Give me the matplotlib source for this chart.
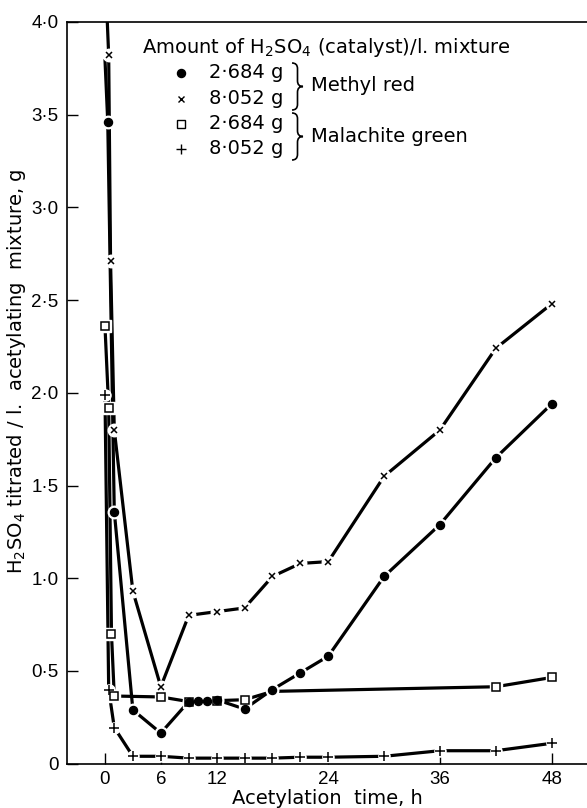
import matplotlib
matplotlib.use("Agg")
import matplotlib.pyplot as plt
from matplotlib.path import Path
from matplotlib.patches import PathPatch

# ---------------- data ----------------
# Methyl red, 2.684 g H2SO4 (filled circles)
t_mr_low = [0, 0.3, 1, 3, 6, 9, 10, 11, 12, 15, 18, 21, 24, 30, 36, 42, 48]
v_mr_low = [3.80, 3.46, 1.36, 0.29, 0.165, 0.335, 0.34, 0.34, 0.345, 0.295, 0.40, 0.49, 0.58, 1.01, 1.29, 1.65, 1.94]
# Methyl red, 8.052 g H2SO4 (crosses)
t_mr_high = [0, 0.4, 0.6, 1, 3, 6, 9, 12, 15, 18, 21, 24, 30, 36, 42, 48]
v_mr_high = [4.30, 3.82, 2.71, 1.80, 0.93, 0.415, 0.80, 0.82, 0.84, 1.01, 1.08, 1.09, 1.55, 1.80, 2.24, 2.48]
# Malachite green, 2.684 g H2SO4 (open squares)
t_mg_low = [0, 0.4, 0.7, 1, 6, 9, 12, 15, 18, 42, 48]
v_mg_low = [2.36, 1.92, 0.70, 0.365, 0.36, 0.335, 0.34, 0.345, 0.39, 0.415, 0.465]
# Malachite green, 8.052 g H2SO4 (plus)
t_mg_high = [0, 0.4, 1, 3, 6, 9, 12, 15, 18, 21, 24, 30, 36, 42, 48]
v_mg_high = [1.99, 0.40, 0.195, 0.04, 0.04, 0.03, 0.03, 0.03, 0.03, 0.035, 0.035, 0.04, 0.07, 0.07, 0.11]

x_ticks = [0, 6, 12, 24, 36, 48]
y_ticks = [0, 0.5, 1.0, 1.5, 2.0, 2.5, 3.0, 3.5, 4.0]
y_ticklabels = ["0", "0\u00b75", "1\u00b70", "1\u00b75", "2\u00b70", "2\u00b75", "3\u00b70", "3\u00b75", "4\u00b70"]

legend_title = r"Amount of H$_2$SO$_4$ (catalyst)/l. mixture"
legend_amounts = ["2\u00b7684 g", "8\u00b7052 g", "2\u00b7684 g", "8\u00b7052 g"]
legend_groups = ["Methyl red", "Malachite green"]
x_label = "Acetylation  time, h"
y_label = r"H$_2$SO$_4$ titrated / l.  acetylating  mixture, g"

# ---------------- figure ----------------
plt.rcParams['font.family'] = ['DejaVu Sans']
plt.rcParams['mathtext.fontset'] = 'dejavusans'
FS_TICK = 13.5
FS_TXT = 14
TICK_FONT = ['Liberation Sans', 'DejaVu Sans']

W, H = 587, 808
fig = plt.figure(figsize=(W / 100, H / 100), dpi=100)
L, R, T, B = 67, 587, 22, 763.7
ax = fig.add_axes([L / W, (H - B) / H, (R - L) / W, (B - T) / H])
ax.set_xlim(-4.08, 51.8)
ax.set_ylim(0, 3.988)

lw = 2.3
halo_kw = dict(ls='none', color='white', zorder=3)

# lines
for t, v in [(t_mr_low, v_mr_low), (t_mr_high, v_mr_high), (t_mg_low, v_mg_low), (t_mg_high, v_mg_high)]:
    ax.plot(t, v, color='black', lw=lw, zorder=2, solid_capstyle='butt')

# markers with white halos
mk_mr_low = list(range(1, len(t_mr_low)))
mk_mg_low = [i for i in range(len(t_mg_low)) if i != 8]
ax.plot(t_mr_low, v_mr_low, marker='o', ms=9, markevery=mk_mr_low, **halo_kw)
ax.plot(t_mr_high, v_mr_high, marker='o', ms=9, **halo_kw)
ax.plot(t_mg_low, v_mg_low, marker='s', ms=8.5, markevery=mk_mg_low, **halo_kw)
ax.plot(t_mg_high, v_mg_high, marker='o', ms=8, **halo_kw)

ax.plot(t_mg_low, v_mg_low, ls='none', marker='s', ms=5.5, mfc='white', mec='black', mew=1.1,
        markevery=mk_mg_low, zorder=4)
ax.plot(t_mr_low, v_mr_low, ls='none', marker='o', ms=5.8, color='black', markevery=mk_mr_low, zorder=5)
ax.plot(t_mr_high, v_mr_high, ls='none', marker='x', ms=5, mec='black', mew=1.1, zorder=5)
ax.plot(t_mg_high, v_mg_high, ls='none', marker='+', ms=7, mec='black', mew=1.1, zorder=5)

# axes styling
for s in ['left', 'bottom', 'top']:
    ax.spines[s].set_linewidth(1.2)
    ax.spines[s].set_zorder(10)
ax.spines['right'].set_visible(False)
ax.set_xticks(x_ticks)
ax.set_xticklabels([str(v) for v in x_ticks], family=TICK_FONT, fontsize=FS_TICK)
ax.set_yticks(y_ticks)
ax.set_yticklabels(y_ticklabels, family=TICK_FONT, fontsize=FS_TICK)
ax.tick_params(axis='both', direction='in', length=8, width=1.0, top=False, right=False)
ax.tick_params(axis='y', pad=6)
ax.tick_params(axis='x', pad=5)
ax.set_xlabel(x_label, fontsize=FS_TXT, labelpad=1)
ax.set_ylabel(y_label, fontsize=FS_TXT)


def fx(px):
    return (px - L) / (R - L)


def fy(py):
    return (B - py) / (B - T)


ax.yaxis.set_label_coords(fx(28), fy(371))

# ---------------- legend (manual) ----------------
tr = ax.transAxes
ax.text(fx(142), fy(48), legend_title, transform=tr, fontsize=FS_TXT, va='center', ha='left')
rows = [73, 99, 124, 149]
mk_styles = [dict(marker='o', ms=5.8, color='black'),
             dict(marker='x', ms=5, mec='black', mew=1.0),
             dict(marker='s', ms=5.5, mfc='white', mec='black', mew=1.0),
             dict(marker='+', ms=7, mec='black', mew=1.0)]
for r, lab, st in zip(rows, legend_amounts, mk_styles):
    ax.plot([fx(181)], [fy(r)], ls='none', transform=tr, clip_on=False, **st)
    ax.text(fx(209), fy(r), lab, transform=tr, fontsize=FS_TXT, va='center', ha='left')


def brace(x0, ytop, ybot, w):
    ym = (ytop + ybot) / 2
    xm = x0 + w * 0.5
    r = (ybot - ytop) * 0.12
    verts = [(x0, ytop), (xm, ytop), (xm, ytop + r),
             (xm, ym - r),
             (xm, ym), (x0 + w, ym),
             (xm, ym), (xm, ym + r),
             (xm, ybot - r),
             (xm, ybot), (x0, ybot)]
    codes = [Path.MOVETO, Path.CURVE3, Path.CURVE3,
             Path.LINETO,
             Path.CURVE3, Path.CURVE3,
             Path.CURVE3, Path.CURVE3,
             Path.LINETO,
             Path.CURVE3, Path.CURVE3]
    verts = [(fx(a), fy(b)) for a, b in verts]
    p = PathPatch(Path(verts, codes), transform=tr, fill=False, lw=1.2, ec='black', clip_on=False)
    ax.add_patch(p)


brace(292, 63, 110, 11)
brace(292, 113, 160, 11)
ax.text(fx(311), fy((rows[0] + rows[1]) / 2), legend_groups[0], transform=tr, fontsize=FS_TXT, va='center', ha='left')
ax.text(fx(311), fy((rows[2] + rows[3]) / 2), legend_groups[1], transform=tr, fontsize=FS_TXT, va='center', ha='left')

fig.savefig("out.png", dpi=100)
